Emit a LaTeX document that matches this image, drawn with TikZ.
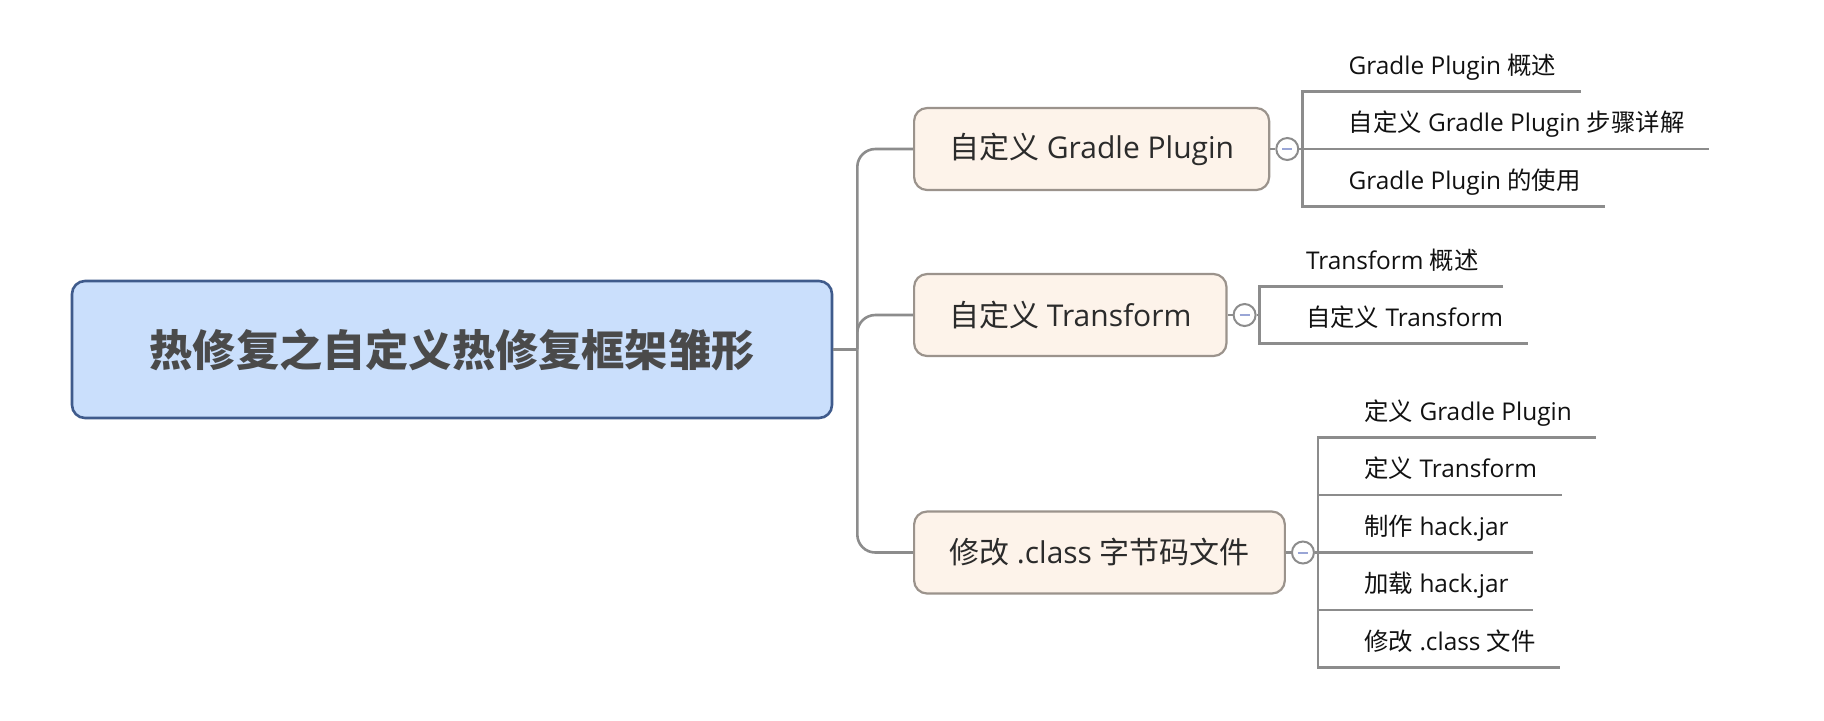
\documentclass[tikz,border=0pt]{standalone}
\usepackage{fontspec}
\setmainfont{Open Sans}
\newfontfamily\cjk{Noto Sans CJK SC}
\newcommand{\cn}[1]{{\cjk #1}}
\usetikzlibrary{positioning}
\definecolor{rootfill}{HTML}{CADFFC}
\definecolor{rootline}{HTML}{3F5B8C}
\definecolor{roottext}{HTML}{4A4A4A}
\definecolor{topicfill}{HTML}{FDF3EA}
\definecolor{topicline}{HTML}{9B938C}
\definecolor{topictext}{HTML}{2B2B2B}
\definecolor{leaftext}{HTML}{111111}
\definecolor{branch}{HTML}{8C8C8C}
\definecolor{foldmark}{HTML}{9AA6D6}
\begin{document}
\begin{tikzpicture}[x=0.5pt,y=-0.5pt]
\tikzset{RootStyle/.style = {rectangle, rounded corners=6.5pt, draw=rootline, fill=rootfill, line width=1.3pt,
    minimum width=380pt, minimum height=68.5pt, font=\fontsize{21.6}{26}\selectfont\bfseries, text=roottext},
  TopicStyle/.style = {anchor=west, rectangle, rounded corners=6.5pt, draw=topicline, fill=topicfill, line width=1.1pt,
    minimum height=41pt, inner xsep=17.5pt, font=\fontsize{15}{18}\selectfont, text=topictext},
  LeafStyle/.style = {anchor=south west, xshift=11pt, inner xsep=12pt, inner ysep=0pt, text height=10pt,
    text depth=8.5pt, font=\fontsize{12.2}{15}\selectfont, text=leaftext},
  FoldStyle/.style = {circle, draw=branch, fill=white, line width=1pt, minimum size=11pt, inner sep=0pt,
    path picture={\draw[foldmark, line width=1pt] ([xshift=-2.5pt]path picture bounding box.center)
      -- ([xshift=2.5pt]path picture bounding box.center);}},
  Trunk/.style = {draw=branch, line width=1.3pt, rounded corners=9pt},
  Twig/.style = {draw=branch, line width=1.3pt}}
\useasboundingbox (0,0) rectangle (1824,720);

\node[RootStyle] (root) at (452,349.5) {\cn{热修复之自定义热修复框架雏形}};
\node[TopicStyle] (g1) at (913,149) {\cn{自定义} Gradle Plugin};
\node[TopicStyle] (g2) at (913,315) {\cn{自定义} Transform};
\node[TopicStyle] (g3) at (913,552.5) {\cn{修改} .class \cn{字节码文件}};
\node[FoldStyle, right=2.5pt of g1] (f1) {}; \node[FoldStyle, right=2.5pt of g2] (f2) {}; \node[FoldStyle, right=2.5pt of g3] (f3) {};
\coordinate (j1) at ([xshift=1.5pt]f1.east); \coordinate (j2) at ([xshift=1.5pt]f2.east); \coordinate (j3) at ([xshift=1.5pt]f3.east);
\coordinate (hub) at ([xshift=12pt]root.east);

\node[LeafStyle] (l11) at ([yshift=28.75pt]j1) {Gradle Plugin \cn{概述}};
\node[LeafStyle] (l12) at (j1) {\cn{自定义} Gradle Plugin \cn{步骤详解}};
\node[LeafStyle] (l13) at ([yshift=-28.75pt]j1) {Gradle Plugin \cn{的使用}};
\node[LeafStyle] (l21) at ([yshift=14.25pt]j2) {Transform \cn{概述}};
\node[LeafStyle] (l22) at ([yshift=-14.25pt]j2) {\cn{自定义} Transform};
\node[LeafStyle] (l31) at ([yshift=57.5pt]j3) {\cn{定义} Gradle Plugin};
\node[LeafStyle] (l32) at ([yshift=28.75pt]j3) {\cn{定义} Transform};
\node[LeafStyle] (l33) at (j3) {\cn{制作} hack.jar};
\node[LeafStyle] (l34) at ([yshift=-28.75pt]j3) {\cn{加载} hack.jar};
\node[LeafStyle] (l35) at ([yshift=-57.5pt]j3) {\cn{修改} .class \cn{文件}};

\draw[Twig] (root) -- (hub);
\draw[Trunk] (hub) |- (g1.west); \draw[Trunk] (hub) |- (g2.west); \draw[Trunk] (hub) |- (g3.west);
\draw[Twig] (g1) -- (f1) (f1) -- (j1); \draw[Twig] (g2) -- (f2) (f2) -- (j2); \draw[Twig] (g3) -- (f3) (f3) -- (j3);

\draw[Twig] (l11.south east) -- (l11.south west -| j1) -- (l13.south west -| j1) -- (l13.south east);
\draw[Twig] (l12.south west -| j1) -- (l12.south east);
\draw[Twig] (l21.south east) -- (l21.south west -| j2) -- (l22.south west -| j2) -- (l22.south east);
\draw[Twig] (l31.south east) -- (l31.south west -| j3) -- (l35.south west -| j3) -- (l35.south east);
\draw[Twig] (l32.south west -| j3) -- (l32.south east); \draw[Twig] (l33.south west -| j3) -- (l33.south east);
\draw[Twig] (l34.south west -| j3) -- (l34.south east);
\end{tikzpicture}
\end{document}
